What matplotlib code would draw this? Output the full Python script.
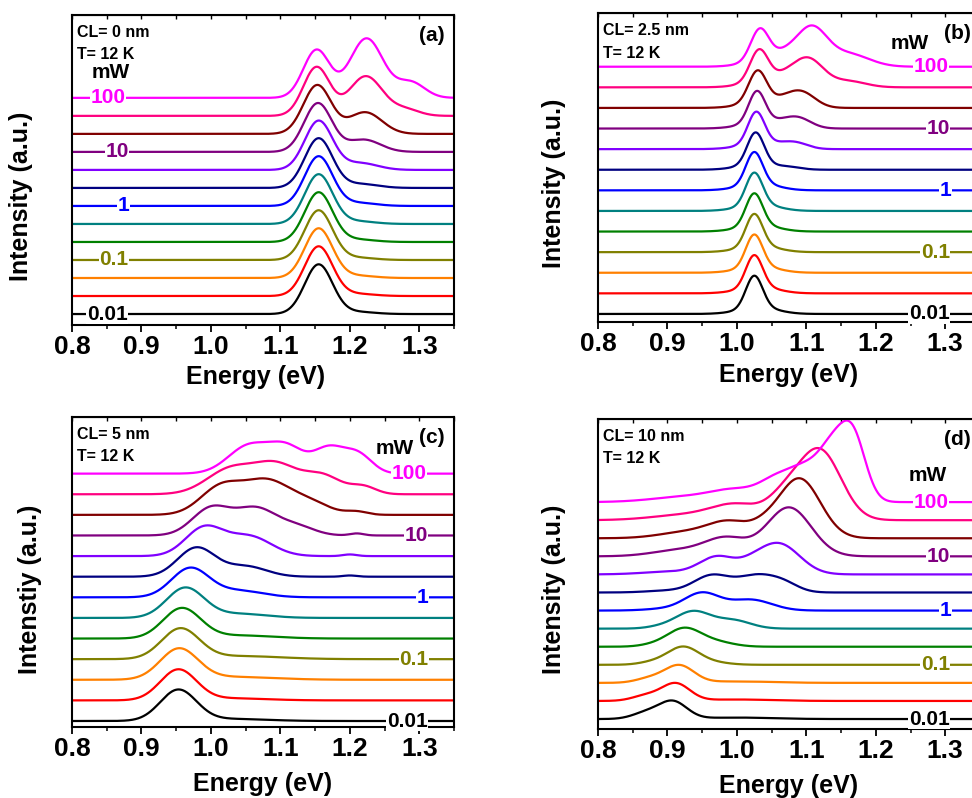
import numpy as np
import matplotlib
matplotlib.use('Agg')
import matplotlib.pyplot as plt
from matplotlib.ticker import MultipleLocator

plt.rcParams['font.family'] = ['Liberation Sans', 'DejaVu Sans']
plt.rcParams['font.weight'] = 'bold'

# one colour per excitation power, lowest power first
COLORS = ['#000000', '#FF0000', '#FF8000', '#808000', '#008000', '#008080',
          '#0000FF', '#000080', '#8000FF', '#800080', '#800000', '#FF0080',
          '#FF00FF']
POWER_TEXT = ['0.01', '0.1', '1', '10', '100']
POWER_CURVE = [0, 3, 6, 9, 12]

# PL bands of each spectrum: (energy eV, height, width eV), height in units of the stacking step
PEAKS_A = [
    [(1.155, 2.75, 0.020), (1.21, 0.12, 0.025)],
    [(1.155, 2.75, 0.020), (1.21, 0.12, 0.025)],
    [(1.155, 2.75, 0.020), (1.21, 0.13, 0.025)],
    [(1.155, 2.75, 0.020), (1.21, 0.13, 0.025)],
    [(1.155, 2.75, 0.020), (1.21, 0.14, 0.025)],
    [(1.155, 2.75, 0.020), (1.21, 0.15, 0.025)],
    [(1.155, 2.75, 0.020), (1.212, 0.17, 0.025)],
    [(1.155, 2.75, 0.020), (1.215, 0.22, 0.025)],
    [(1.155, 2.72, 0.020), (1.215, 0.38, 0.025)],
    [(1.154, 2.70, 0.020), (1.22, 0.68, 0.024)],
    [(1.153, 2.70, 0.020), (1.222, 1.20, 0.024)],
    [(1.152, 2.70, 0.019), (1.223, 2.20, 0.024), (1.28, 0.35, 0.02)],
    [(1.152, 2.65, 0.019), (1.224, 3.30, 0.024), (1.288, 0.85, 0.02)],
]
PEAKS_B = [
    [(1.025, 1.58, 0.012), (1.027, 0.25, 0.028), (1.05, 0.06, 0.02)],
    [(1.025, 1.58, 0.012), (1.027, 0.25, 0.028), (1.05, 0.06, 0.02)],
    [(1.025, 1.58, 0.012), (1.027, 0.25, 0.028), (1.05, 0.06, 0.02)],
    [(1.025, 1.58, 0.012), (1.027, 0.25, 0.028), (1.05, 0.06, 0.02)],
    [(1.025, 1.58, 0.012), (1.027, 0.25, 0.028), (1.05, 0.06, 0.02)],
    [(1.025, 1.58, 0.012), (1.027, 0.25, 0.028), (1.05, 0.07, 0.02)],
    [(1.025, 1.58, 0.012), (1.027, 0.25, 0.028), (1.05, 0.07, 0.02)],
    [(1.027, 1.56, 0.012), (1.029, 0.25, 0.028), (1.075, 0.10, 0.018)],
    [(1.028, 1.56, 0.012), (1.030, 0.25, 0.028), (1.084, 0.30, 0.018), (1.06, 0.08, 0.015)],
    [(1.029, 1.56, 0.012), (1.031, 0.25, 0.028), (1.087, 0.52, 0.019), (1.06, 0.12, 0.015)],
    [(1.030, 1.56, 0.013), (1.032, 0.25, 0.028), (1.092, 0.78, 0.020), (1.065, 0.18, 0.015)],
    [(1.032, 1.54, 0.013), (1.034, 0.25, 0.028), (1.102, 1.38, 0.022), (1.066, 0.32, 0.018),
     (1.16, 0.30, 0.025)],
    [(1.033, 1.54, 0.013), (1.035, 0.25, 0.028), (1.107, 1.83, 0.022), (1.067, 0.42, 0.018),
     (1.16, 0.62, 0.030)],
]
PEAKS_C = [
    [(0.953, 1.50, 0.026), (1.03, 0.10, 0.05)],
    [(0.953, 1.48, 0.026), (1.03, 0.10, 0.05)],
    [(0.954, 1.47, 0.027), (1.03, 0.14, 0.06)],
    [(0.956, 1.45, 0.027), (1.04, 0.15, 0.06)],
    [(0.958, 1.45, 0.027), (1.04, 0.15, 0.05)],
    [(0.963, 1.45, 0.027), (1.04, 0.20, 0.04)],
    [(0.970, 1.40, 0.027), (1.04, 0.32, 0.035)],
    [(0.979, 1.40, 0.027), (1.05, 0.50, 0.030), (1.20, 0.06, 0.010)],
    [(0.990, 1.35, 0.027), (1.055, 0.95, 0.032), (1.20, 0.08, 0.010)],
    [(1.000, 1.30, 0.027), (1.065, 1.30, 0.030), (1.125, 0.40, 0.025), (1.21, 0.10, 0.010)],
    [(1.015, 1.35, 0.030), (1.080, 1.55, 0.032), (1.14, 0.60, 0.030), (1.21, 0.15, 0.015)],
    [(1.030, 1.25, 0.035), (1.095, 1.30, 0.030), (1.16, 0.90, 0.028), (1.22, 0.35, 0.018)],
    [(1.055, 1.35, 0.030), (1.110, 1.20, 0.025), (1.170, 1.20, 0.022), (1.212, 0.90, 0.020)],
]
PEAKS_D = [
    [(0.870, 0.35, 0.020), (0.908, 0.95, 0.020), (1.00, 0.08, 0.05)],
    [(0.870, 0.30, 0.020), (0.912, 0.95, 0.020), (1.00, 0.08, 0.05)],
    [(0.875, 0.25, 0.020), (0.917, 0.95, 0.021), (1.00, 0.08, 0.05)],
    [(0.880, 0.15, 0.020), (0.922, 0.95, 0.022), (0.96, 0.15, 0.025)],
    [(0.880, 0.10, 0.020), (0.924, 1.00, 0.024), (0.97, 0.25, 0.025)],
    [(0.890, 0.10, 0.020), (0.937, 0.95, 0.025), (0.995, 0.45, 0.025)],
    [(0.900, 0.10, 0.030), (0.950, 0.95, 0.025), (1.020, 0.60, 0.030)],
    [(0.900, 0.10, 0.030), (0.963, 0.90, 0.025), (1.030, 0.95, 0.030), (1.07, 0.30, 0.02)],
    [(0.905, 0.15, 0.040), (0.972, 0.95, 0.025), (1.020, 0.30, 0.020), (1.06, 1.70, 0.030)],
    [(0.920, 0.35, 0.040), (0.985, 0.95, 0.030), (1.075, 2.70, 0.032)],
    [(0.930, 0.35, 0.040), (0.990, 0.85, 0.030), (1.040, 0.40, 0.020), (1.09, 3.30, 0.030)],
    [(0.930, 0.30, 0.050), (1.000, 0.80, 0.035), (1.070, 1.20, 0.025), (1.12, 3.80, 0.030)],
    [(0.930, 0.30, 0.050), (1.000, 0.60, 0.035), (1.060, 1.20, 0.025), (1.10, 1.50, 0.022),
     (1.138, 2.70, 0.020), (1.168, 3.30, 0.018)],
]

PANELS = [
    dict(peaks=PEAKS_A, tag='(a)', cl='CL= 0 nm', ylabel='Intensity (a.u.)',
         rect=[0.0741, 0.5927, 0.393, 0.3885], ylim=(-0.61, 16.6),
         label_x=[0.851, 0.860, 0.874, 0.8645, 0.852], mw=(0.856, 13.39, 'data'),
         xlab=(0.48, -0.129), ylab=(-0.102, 0.416)),
    dict(peaks=PEAKS_B, tag='(b)', cl='CL= 2.5 nm', ylabel='Intensity (a.u.)',
         rect=[0.6152, 0.5965, 0.393, 0.387], ylim=(-0.39, 14.6),
         label_x=[1.277, 1.2856, 1.300, 1.2895, 1.280], mw=(0.815, 0.903, 'axes'),
         xlab=(0.50, -0.133), ylab=(-0.084, 0.45)),
    dict(peaks=PEAKS_C, tag='(c)', cl='CL= 5 nm', ylabel='Intenstiy (a.u.)',
         rect=[0.0741, 0.0890, 0.393, 0.3885], ylim=(-0.29, 14.75),
         label_x=[1.283, 1.2925, 1.3046, 1.295, 1.285], mw=(0.845, 0.897, 'axes'),
         xlab=(0.50, -0.145), ylab=(-0.079, 0.445)),
    dict(peaks=PEAKS_D, tag='(d)', cl='CL= 10 nm', ylabel='Intensity (a.u.)',
         rect=[0.6152, 0.0865, 0.393, 0.3885], ylim=(-0.55, 16.6),
         label_x=[1.277, 1.2856, 1.300, 1.2895, 1.280], mw=(0.864, 0.817, 'axes'),
         xlab=(0.50, -0.145), ylab=(-0.084, 0.452)),
]

energy = np.linspace(0.8, 1.35, 1101)


def spectrum(peaks):
    y = np.zeros_like(energy)
    for center, height, width in peaks:
        y += height * np.exp(-(energy - center) ** 2 / (2 * width ** 2))
    return y


fig = plt.figure(figsize=(9.72, 7.98), dpi=100)

for p in PANELS:
    ax = fig.add_axes(p['rect'])
    for i, peaks in enumerate(p['peaks']):
        ax.plot(energy, spectrum(peaks) + i, color=COLORS[i], lw=1.6)
    for txt, idx, xe in zip(POWER_TEXT, POWER_CURVE, p['label_x']):
        ax.text(xe, idx, txt, color=COLORS[idx], fontsize=15, fontweight='bold',
                ha='center', va='center',
                bbox=dict(facecolor='white', edgecolor='none', pad=0.5))
    mx, my, where = p['mw']
    ax.text(mx, my, 'mW', fontsize=15, fontweight='bold', ha='center', va='center',
            transform=ax.transData if where == 'data' else ax.transAxes)
    ax.text(0.013, 0.945, p['cl'], fontsize=11.5, fontweight='bold',
            transform=ax.transAxes, va='center')
    ax.text(0.013, 0.871, 'T= 12 K', fontsize=11.5, fontweight='bold',
            transform=ax.transAxes, va='center')
    ax.text(0.942, 0.935, p['tag'], fontsize=15, fontweight='bold',
            transform=ax.transAxes, ha='center', va='center')

    ax.set_xlim(0.8, 1.35)
    ax.set_ylim(*p['ylim'])
    ax.set_yticks([])
    ax.xaxis.set_major_locator(MultipleLocator(0.1))
    ax.xaxis.set_minor_locator(MultipleLocator(0.05))
    ax.xaxis.set_major_formatter(plt.FormatStrFormatter('%.1f'))
    ax.tick_params(axis='x', which='major', direction='out', length=5, width=1.3,
                   labelsize=19, pad=2)
    ax.tick_params(axis='x', which='minor', direction='out', length=3, width=1.1)
    top = ax.secondary_xaxis('top')
    top.xaxis.set_major_locator(MultipleLocator(0.1))
    top.xaxis.set_minor_locator(MultipleLocator(0.05))
    top.tick_params(which='both', direction='in', labeltop=False, length=3, width=1.0)
    for lab in ax.get_xticklabels():
        lab.set_fontweight('bold')
    for s in ax.spines.values():
        s.set_linewidth(1.5)

    ax.set_xlabel('Energy (eV)', fontsize=18, fontweight='bold')
    ax.set_ylabel(p['ylabel'], fontsize=18, fontweight='bold')
    ax.xaxis.set_label_coords(*p['xlab'])
    ax.yaxis.set_label_coords(*p['ylab'])

fig.savefig('out.png', dpi=100)
